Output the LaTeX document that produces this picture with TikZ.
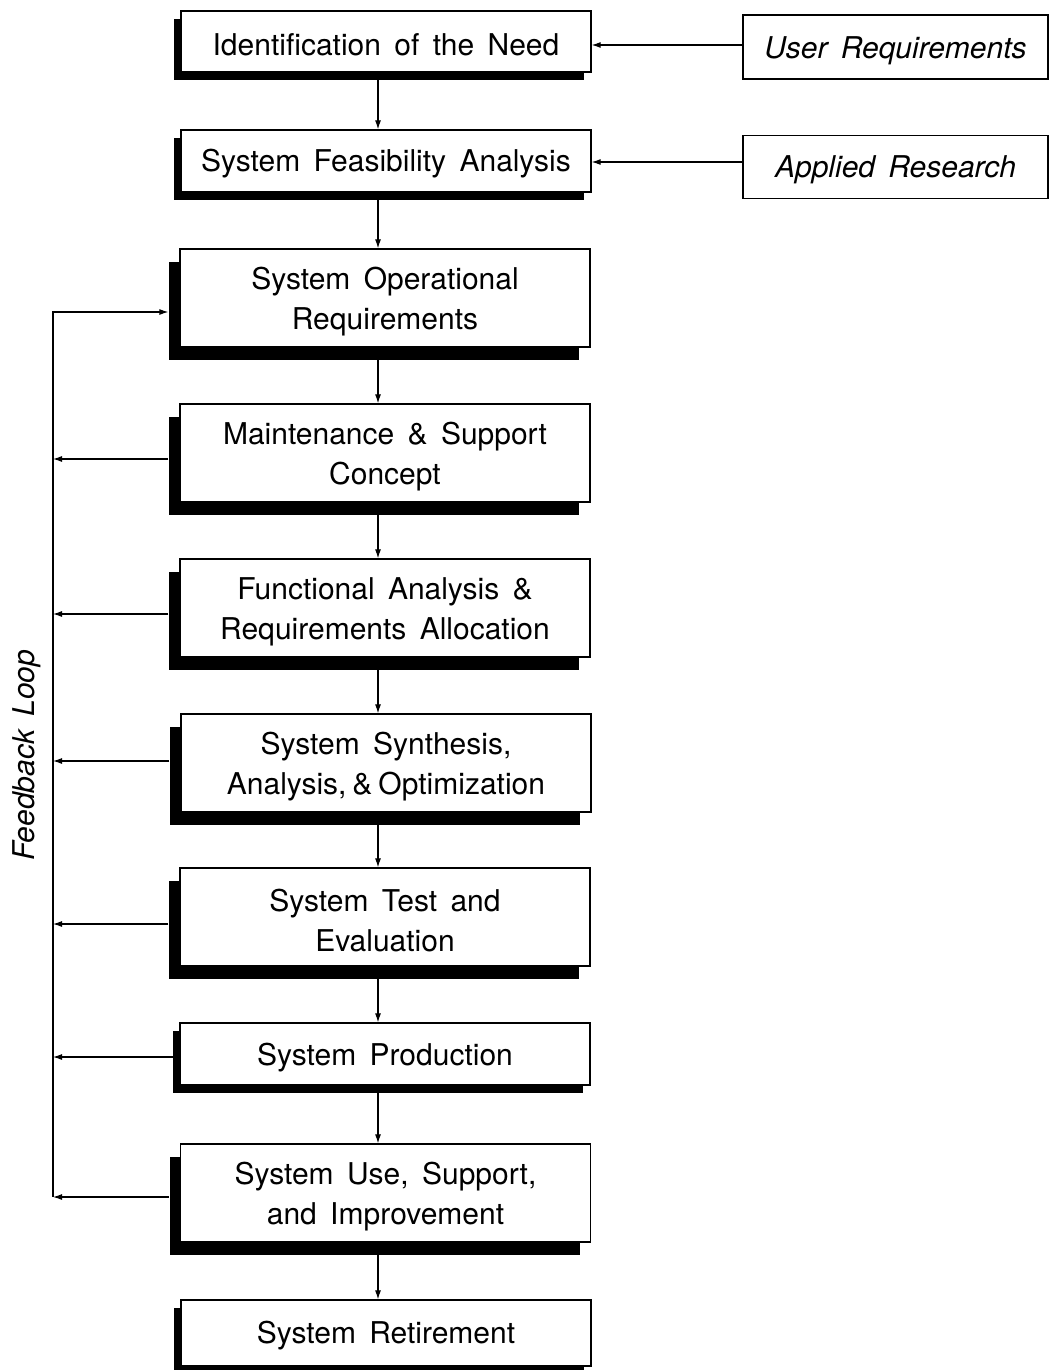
\documentclass[tikz,border=0pt]{standalone}
\usepackage{fontspec}
\setmainfont[WordSpace=1.6]{TeX Gyre Heros}
\usetikzlibrary{arrows.meta,calc,shadows}
\begin{document}
\begin{tikzpicture}[x=1pt,y=-1pt,
  box/.style={draw, line width=1.3pt, fill=white, minimum width=410pt, inner sep=0pt},
  txt/.style={align=center, inner sep=0pt, font=\fontsize{30}{40}\selectfont},
  sh/.style={drop shadow={shadow xshift=-7pt, shadow yshift=-8pt, fill=black, opacity=1}},
  shbig/.style={drop shadow={shadow xshift=-11pt, shadow yshift=-13pt, fill=black, opacity=1}},
  side/.style={draw, line width=1.1pt, minimum width=305pt, inner sep=0pt},
  stxt/.style={inner sep=0pt, font=\fontsize{30}{40}\selectfont\itshape},
  arr/.style={line width=1.1pt, -{Latex[length=9pt,width=6pt]}},
  ln/.style={line width=1.1pt}
]
\useasboundingbox (0,0) rectangle (1051,1370);

% main boxes
\node[box, sh,    minimum height=61pt] (n1)  at (386,41.5) {};
\node[box, sh,    minimum height=62pt] (n2)  at (386,161) {};
\node[box, shbig, minimum height=98pt] (n3)  at (385,298) {};
\node[box, shbig, minimum height=98pt] (n4)  at (385,453) {};
\node[box, shbig, minimum height=98pt] (n5)  at (385,608) {};
\node[box, shbig, minimum height=98pt] (n6)  at (386,763) {};
\node[box, shbig, minimum height=98pt] (n7)  at (385,917) {};
\node[box, sh,    minimum height=62pt] (n8)  at (385,1054) {};
\node[box, shbig, minimum height=98pt] (n9)  at (385.5,1193) {};
\node[box, sh,    minimum height=66pt] (n10) at (386,1333) {};

\node[txt] (t1)  at ([yshift=-3pt]n1.center)  {Identification of the Need};
\node[txt] (t2)  at ([yshift=-3pt]n2.center)  {System Feasibility Analysis};
\node[txt] (t3)  at ([yshift=-4pt]n3.center)  {System Operational\\Requirements};
\node[txt] (t4)  at ([yshift=-4pt]n4.center)  {Maintenance \& Support\\Concept};
\node[txt] (t5)  at ([yshift=-4pt]n5.center)  {Functional Analysis \&\\Requirements Allocation};
\node[txt] (t6)  at ([yshift=-4pt]n6.center)  {System Synthesis,\\Analysis,\hspace{0.2em}\&\hspace{0.2em}Optimization};
\node[txt] (t7)  at ([yshift=-4pt]n7.center)  {System Test and\\Evaluation};
\node[txt] (t8)  at ([yshift=-4pt]n8.center)  {System Production};
\node[txt] (t9)  at ([yshift=-4pt]n9.center)  {System Use, Support,\\and Improvement};
\node[txt] (t10) at ([yshift=-3pt]n10.center) {System Retirement};

% side boxes
\node[side, minimum height=64pt] (ur) at (895.5,47) {};
\node[side, minimum height=63pt] (ar) at (895.5,167) {};
\node[stxt] (tur) at ([yshift=-4pt]ur.center) {User Requirements};
\node[stxt] (tar) at ([yshift=-3pt]ar.center) {Applied Research};

\coordinate (ua) at ($(ur.west)+(0,-2)$);
\coordinate (aa) at ($(ar.west)+(0,-5)$);
\draw[arr] (ua) -- (ua -| n1.east);
\draw[arr] (aa) -- (aa -| n2.east);

% vertical flow
\coordinate (ax) at (378,0);
\draw[arr] (n1.south -| ax) -- (n2.north -| ax);
\draw[arr] (n2.south -| ax) -- (n3.north -| ax);
\draw[arr] (n3.south -| ax) -- (n4.north -| ax);
\draw[arr] (n4.south -| ax) -- (n5.north -| ax);
\draw[arr] (n5.south -| ax) -- (n6.north -| ax);
\draw[arr] (n6.south -| ax) -- (n7.north -| ax);
\draw[arr] (n7.south -| ax) -- (n8.north -| ax);
\draw[arr] (n8.south -| ax) -- (n9.north -| ax);
\draw[arr] (n9.south -| ax) -- (n10.north -| ax);

% feedback loop
\coordinate (fb) at (53,0);
\coordinate (s3) at ($(n3.west)+(-11,14)$);
\coordinate (s4) at ($(n4.west)+(-11,6)$);
\coordinate (s5) at ($(n5.west)+(-11,6)$);
\coordinate (s6) at ($(n6.west)+(-11,-2)$);
\coordinate (s7) at ($(n7.west)+(-11,7)$);
\coordinate (s8) at ($(n8.west)+(-6,3)$);
\coordinate (s9) at ($(n9.west)+(-11,4)$);
\draw[arr] (s9 -| fb) -- (s3 -| fb) -- (s3);
\draw[arr] (s4) -- (s4 -| fb);
\draw[arr] (s5) -- (s5 -| fb);
\draw[arr] (s6) -- (s6 -| fb);
\draw[arr] (s7) -- (s7 -| fb);
\draw[arr] (s8) -- (s8 -| fb);
\draw[arr] (s9) -- (s9 -| fb);

\node[rotate=90, font=\fontsize{30}{40}\selectfont\itshape, inner sep=0pt] (fbl) at (27,755) {Feedback Loop};
\end{tikzpicture}
\end{document}
